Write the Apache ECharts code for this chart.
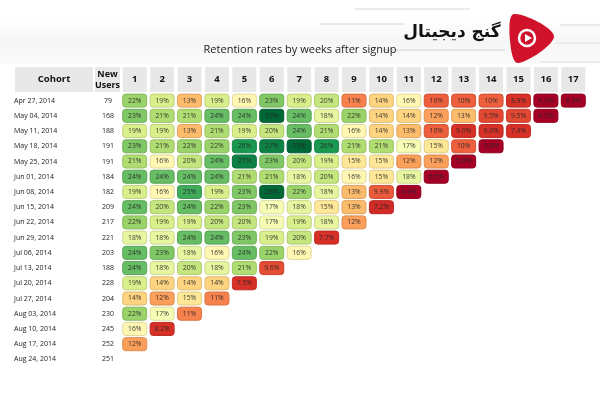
<!DOCTYPE html>
<html>
<head>
<meta charset="utf-8">
<script src="https://cdn.jsdelivr.net/npm/echarts@6/dist/echarts.min.js"></script>
<style>
html,body{margin:0;padding:0;background:#fff;}
#chart{width:600px;height:400px;}
</style>
</head>
<body>
<div id="chart"></div>
<script>
// ---------- DATA ----------
const title = 'Retention rates by weeks after signup';
const weeks = ['1','2','3','4','5','6','7','8','9','10','11','12','13','14','15','16','17'];
const cohorts = ['Apr 27, 2014','May 04, 2014','May 11, 2014','May 18, 2014','May 25, 2014','Jun 01, 2014',
  'Jun 08, 2014','Jun 15, 2014','Jun 22, 2014','Jun 29, 2014','Jul 06, 2014','Jul 13, 2014','Jul 20, 2014',
  'Jul 27, 2014','Aug 03, 2014','Aug 10, 2014','Aug 17, 2014','Aug 24, 2014'];
const newUsers = [79,168,188,191,191,184,182,209,217,221,203,188,228,204,230,245,252,251];

const retApr27 = [22,19,13,19,16,23,19,20,11,14,16,10,10,10,8.9,6.3,6.3];
const retMay04 = [23,21,21,24,24,29,24,18,22,14,14,12,13,9.5,9.5,6.5];
const retMay11 = [19,19,13,21,19,20,24,21,16,14,13,10,9.0,9.0,7.4];
const retMay18 = [23,21,22,22,26,27,29,26,21,21,17,15,10,5.8];
const retMay25 = [21,16,20,24,27,23,20,19,15,15,12,12,5.8];
const retJun01 = [24,24,24,24,21,21,18,20,16,15,18,6.5];
const retJun08 = [19,16,25,19,23,28,22,18,13,9.9,4.9];
const retJun15 = [24,20,24,22,23,17,18,15,13,7.2];
const retJun22 = [22,19,19,20,20,17,19,18,12];
const retJun29 = [18,18,24,24,23,19,20,7.7];
const retJul06 = [24,23,18,16,24,22,16];
const retJul13 = [24,18,20,18,21,9.6];
const retJul20 = [19,14,14,14,7.5];
const retJul27 = [14,12,15,11];
const retAug03 = [22,17,11];
const retAug10 = [16,8.2];
const retAug17 = [12];
const retAug24 = [];

const rows = [retApr27,retMay04,retMay11,retMay18,retMay25,retJun01,retJun08,retJun15,retJun22,
  retJun29,retJul06,retJul13,retJul20,retJul27,retAug03,retAug10,retAug17,retAug24];

// ---------- COLOUR SCALE ----------
const stops = [[6.5,'#a50026'],[7.3,'#d73027'],[9.0,'#d73027'],[10.3,'#f46d43'],[12.5,'#fdae61'],
  [14.5,'#fee08b'],[16.5,'#ffffbf'],[19,'#d9ef8b'],[21.5,'#a6d96a'],[24,'#66bd63'],[26,'#1a9850'],[28,'#006837']];
function hex2rgb(h){return [parseInt(h.substr(1,2),16),parseInt(h.substr(3,2),16),parseInt(h.substr(5,2),16)];}
function colorFor(v){
  if(v<=stops[0][0]) return hex2rgb(stops[0][1]);
  if(v>=stops[stops.length-1][0]) return hex2rgb(stops[stops.length-1][1]);
  for(let i=0;i<stops.length-1;i++){
    const a=stops[i],b=stops[i+1];
    if(v>=a[0]&&v<=b[0]){
      const t=(v-a[0])/(b[0]-a[0]);
      const ca=hex2rgb(a[1]),cb=hex2rgb(b[1]);
      return ca.map((c,k)=>Math.round(c+(cb[k]-c)*t));
    }
  }
}
function rgb(c,f){return 'rgb('+c.map(x=>Math.round(x*f)).join(',')+')';}

const cellData = [];
rows.forEach((r,yi)=>r.forEach((v,xi)=>cellData.push([xi,yi,v])));

// ---------- CHART ----------
const chart = echarts.init(document.getElementById('chart'));
const FONT = '"Open Sans", "Noto Sans", sans-serif';
chart.setOption({
  backgroundColor:'#ffffff',
  animation:false,
  title:{text:title,left:'center',top:39,textStyle:{fontSize:11,fontWeight:'normal',color:'#222',fontFamily:FONT}},
  grid:{left:121,top:93,width:466,height:274},
  xAxis:{type:'category',data:weeks,position:'top',
    axisLine:{show:false},axisTick:{show:false},splitLine:{show:false},
    axisLabel:{margin:1,interval:0,color:'#111',fontWeight:'bold',fontSize:9.5,fontFamily:FONT,
      backgroundColor:'#e8e8e8',width:24,height:25,lineHeight:25,align:'center'}},
  yAxis:{type:'category',data:cohorts,inverse:true,
    axisLine:{show:false},axisTick:{show:false},splitLine:{show:false},
    axisLabel:{margin:107,align:'left',interval:0,
      formatter:(val,idx)=>'{d|'+val+'}{n|'+newUsers[idx]+'}',
      rich:{d:{width:81,align:'left',fontSize:7,color:'#222',fontFamily:FONT},
            n:{width:26,align:'center',fontSize:7,color:'#222',fontFamily:FONT}}}},
  graphic:[
    {type:'rect',z:-10,shape:{x:0,y:18,width:600,height:46},
      style:{fill:new echarts.graphic.LinearGradient(0,0,0,1,[{offset:0,color:'#ffffff'},{offset:0.5,color:'#f6f6f6'},{offset:1,color:'#fbfbfb'}])}},
    {type:'rect',shape:{x:15,y:67,width:78,height:25},style:{fill:'#e8e8e8'}},
    {type:'text',x:54,y:79.5,style:{text:'Cohort',fill:'#111',font:'bold 9.5px '+FONT,align:'center',verticalAlign:'middle'}},
    {type:'rect',shape:{x:95,y:67,width:25,height:25},style:{fill:'#e8e8e8'}},
    {type:'text',x:107.5,y:79.5,style:{text:'New\nUsers',fill:'#111',font:'bold 9px '+FONT,align:'center',verticalAlign:'middle',lineHeight:11}},
    // logo watermark
    {type:'line',shape:{x1:355,y1:9,x2:470,y2:9},style:{stroke:'#d8d8d8',lineWidth:1}},
    {type:'line',shape:{x1:320,y1:24,x2:405,y2:24},style:{stroke:'#d8d8d8',lineWidth:1}},
    {type:'line',shape:{x1:383,y1:50,x2:505,y2:50},style:{stroke:'#d0d0d0',lineWidth:1}},
    {type:'line',shape:{x1:560,y1:25,x2:600,y2:25},style:{stroke:'#d8d8d8',lineWidth:1}},
    {type:'line',shape:{x1:540,y1:62,x2:600,y2:62},style:{stroke:'#dcdcdc',lineWidth:1}},
    {type:'line',shape:{x1:555,y1:43,x2:600,y2:43},style:{stroke:'#e2e2e2',lineWidth:1}},
    {type:'polygon',shape:{points:[[514,14],[554,36],[518,63],[510,40]],smooth:0.35},style:{fill:'#d0132a'}},
    {type:'circle',shape:{cx:527,cy:38,r:8},style:{fill:'none',stroke:'#fff',lineWidth:2.5}},
    {type:'polygon',shape:{points:[[525,34],[532,38],[525,42]]},style:{fill:'#fff'}},
    {type:'text',x:452,y:33,style:{text:'گنج دیجیتال',fill:'#111',font:'bold 17px "DejaVu Sans", sans-serif',align:'center',verticalAlign:'middle'}}
  ],
  series:[{
    type:'custom',
    coordinateSystem:'cartesian2d',
    data:cellData,
    renderItem:function(params,api){
      const v=api.value(2);
      const p=api.coord([api.value(0),api.value(1)]);
      const s=api.size([1,1]);
      const w=s[0]-3.4,h=s[1]-2.2;
      const c=colorFor(v);
      const txt=(v>=10?Math.round(v):v.toFixed(1))+'%';
      return {type:'group',children:[
        {type:'rect',shape:{x:p[0]-w/2,y:p[1]-h/2,width:w,height:h,r:3},
          style:{fill:rgb(c,1),stroke:rgb(c,0.88),lineWidth:1}},
        {type:'text',x:p[0],y:p[1],style:{text:txt,fill:'rgba(40,40,40,0.9)',font:'6.8px '+FONT,align:'center',verticalAlign:'middle'}}
      ]};
    }
  }]
});
</script>
</body>
</html>
